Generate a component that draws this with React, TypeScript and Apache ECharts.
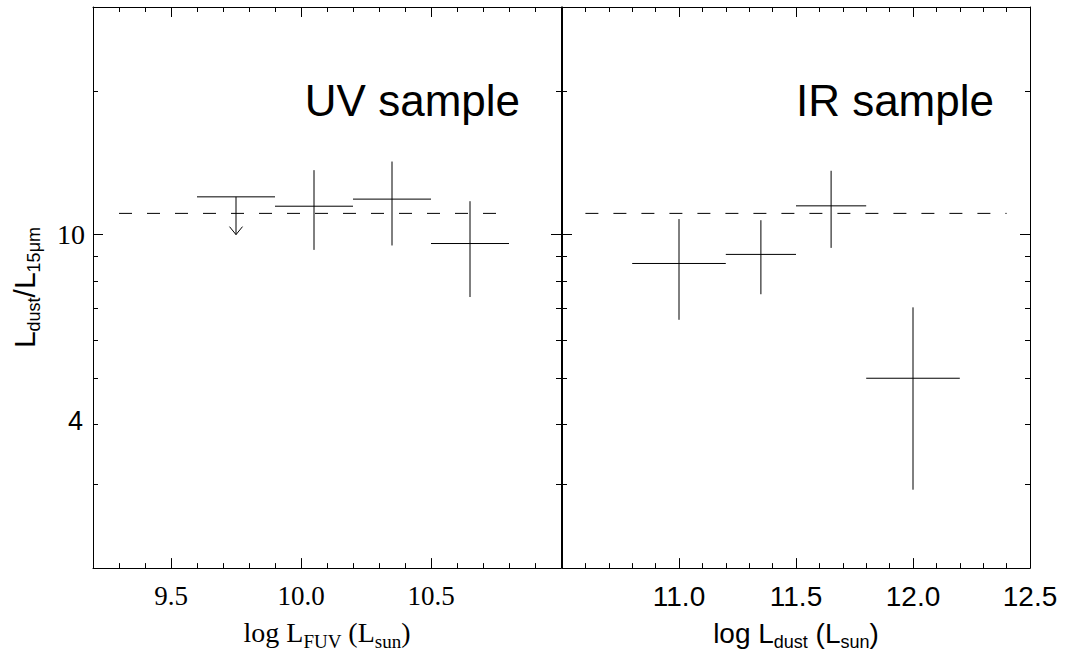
import React, { useEffect, useRef } from "react";
import * as echarts from "echarts";

// ---- data ----
const uvBinLow = [9.6, 9.9, 10.2, 10.5];
const uvBinHigh = [9.9, 10.2, 10.5, 10.8];
const uvBinCenter = [9.75, 10.05, 10.35, 10.65];
const uvRatio = [12.0, 11.47, 11.87, 9.58];
const uvRatioLow = [10.0, 9.29, 9.49, 7.4];
const uvRatioHigh = [12.0, 13.65, 14.23, 11.75];
const uvIsUpperLimit = [true, false, false, false];

const irBinLow = [10.8, 11.2, 11.5, 11.8];
const irBinHigh = [11.2, 11.5, 11.8, 12.2];
const irBinCenter = [11.0, 11.35, 11.65, 12.0];
const irRatio = [8.7, 9.09, 11.49, 5.0];
const irRatioLow = [6.63, 7.5, 9.38, 2.92];
const irRatioHigh = [10.78, 10.72, 13.61, 7.04];

const meanRatio = 11.08;
const uvMeanSpan = [9.3, 10.75];
const irMeanSpan = [10.6, 12.4];

const uvXRange = [9.2, 11.0];
const irXRange = [10.5, 12.5];
const yRange = [2, 30];
const uvXLabels = [9.5, 10.0, 10.5];
const irXLabels = [11.0, 11.5, 12.0, 12.5];
const uvXMajor = [9.5, 10.0, 10.5];
const irXMajor = [11.0, 11.5, 12.0];
const yMinorTicks = [3, 4, 5, 6, 7, 8, 9, 20];
const yMajorTicks = [10];
const yLabels = [4, 10];

const SERIF = "'Liberation Serif', 'Times New Roman', serif";
const SANS = "'Liberation Sans', Arial, Helvetica, sans-serif";
const INK = "#000";
const axisLineStyle = { color: INK, width: 1 };

function makeXAxes(grid: number, range: number[], labels: number[], majors: number[], font: string, fontSize: number, name: string, rich: any) {
  const base: any = {
    type: "value",
    gridIndex: grid,
    min: range[0],
    max: range[1],
    splitLine: { show: false },
    axisLine: { show: true, onZero: false, lineStyle: axisLineStyle },
  };
  return [
    {
      ...base,
      position: "bottom",
      interval: 0.1,
      axisTick: { show: true, inside: true, length: 5, lineStyle: axisLineStyle },
      axisLabel: {
        show: true,
        customValues: labels,
        formatter: (v: number) => v.toFixed(1),
        fontFamily: font,
        fontSize,
        color: INK,
        margin: 14,
      },
      name,
      nameLocation: "middle",
      nameGap: 45,
      nameTextStyle: { color: INK, rich },
    },
    {
      ...base,
      position: "bottom",
      axisLine: { show: false },
      axisTick: { show: true, inside: true, length: 10, customValues: majors, lineStyle: axisLineStyle },
      axisLabel: { show: false },
    },
    {
      ...base,
      position: "top",
      interval: 0.1,
      axisTick: { show: true, inside: true, length: 5, lineStyle: axisLineStyle },
      axisLabel: { show: false },
    },
    {
      ...base,
      position: "top",
      axisLine: { show: false },
      axisTick: { show: true, inside: true, length: 10, customValues: majors, lineStyle: axisLineStyle },
      axisLabel: { show: false },
    },
  ];
}

function makeYAxes(grid: number, withLabels: boolean) {
  const base: any = {
    type: "log",
    logBase: 10,
    gridIndex: grid,
    min: yRange[0],
    max: yRange[1],
    splitLine: { show: false },
    axisLine: { show: true, onZero: false, lineStyle: axisLineStyle },
    axisLabel: { show: false },
  };
  const main: any = {
    ...base,
    position: "left",
    axisTick: { show: true, inside: true, length: 5, customValues: yMinorTicks, lineStyle: axisLineStyle },
  };
  if (withLabels) {
    main.axisLabel = {
      show: true,
      customValues: yLabels,
      margin: 8,
      formatter: (v: number) => (Math.round(v) === 10 ? "{serif|10}" : "{sans|" + Math.round(v) + "}"),
      rich: {
        serif: { fontFamily: SERIF, fontSize: 28, color: INK },
        sans: { fontFamily: SANS, fontSize: 27, color: INK, padding: [0, 2, 6, 0] },
      },
    };
    main.name = "{m|L}{s|dust}{m|/L}{s|15μm}";
    main.nameLocation = "middle";
    main.nameRotate = 90;
    main.nameGap = 54;
    main.nameTextStyle = {
      color: INK,
      rich: {
        m: { fontFamily: SANS, fontSize: 30, lineHeight: 30, color: INK },
        s: { fontFamily: SANS, fontSize: 18, lineHeight: 30, color: INK, padding: [20, 0, 0, 0] },
      },
    };
  }
  return [
    main,
    {
      ...base,
      position: "left",
      axisLine: { show: false },
      axisTick: { show: true, inside: true, length: 10, customValues: yMajorTicks, lineStyle: axisLineStyle },
    },
    {
      ...base,
      position: "right",
      axisTick: { show: true, inside: true, length: 5, customValues: yMinorTicks, lineStyle: axisLineStyle },
    },
    {
      ...base,
      position: "right",
      axisLine: { show: false },
      axisTick: { show: true, inside: true, length: 10, customValues: yMajorTicks, lineStyle: axisLineStyle },
    },
  ];
}

const renderCross = (_params: any, api: any) => {
  const xc = api.value(0);
  const y = api.value(1);
  const x0 = api.value(2);
  const x1 = api.value(3);
  const y0 = api.value(4);
  const y1 = api.value(5);
  const a = api.coord([x0, y]);
  const b = api.coord([x1, y]);
  const c = api.coord([xc, y1]);
  const d = api.coord([xc, y0]);
  const st = { stroke: INK, lineWidth: 1, fill: null };
  return {
    type: "group",
    children: [
      { type: "line", shape: { x1: a[0], y1: a[1], x2: b[0], y2: b[1] }, style: st },
      { type: "line", shape: { x1: c[0], y1: c[1], x2: d[0], y2: d[1] }, style: st },
    ],
  };
};

const renderLimit = (_params: any, api: any) => {
  const xc = api.value(0);
  const y = api.value(1);
  const x0 = api.value(2);
  const x1 = api.value(3);
  const yTip = api.value(4);
  const a = api.coord([x0, y]);
  const b = api.coord([x1, y]);
  const top = api.coord([xc, y]);
  const tip = api.coord([xc, yTip]);
  const st = { stroke: INK, lineWidth: 1, fill: null };
  return {
    type: "group",
    children: [
      { type: "line", shape: { x1: a[0], y1: a[1], x2: b[0], y2: b[1] }, style: st },
      { type: "line", shape: { x1: top[0], y1: top[1], x2: tip[0], y2: tip[1] }, style: st },
      {
        type: "polyline",
        shape: { points: [[tip[0] - 6.5, tip[1] - 8], [tip[0], tip[1]], [tip[0] + 6.5, tip[1] - 8]] },
        style: st,
      },
    ],
  };
};

export default function App() {
  const ref = useRef<HTMLDivElement>(null);

  useEffect(() => {
    document.body.style.margin = "0";
    if (!ref.current) return;
    const chart = echarts.init(ref.current, null, { renderer: "svg" });

    const uvCrossData: any[] = [];
    const uvLimitData: any[] = [];
    uvBinCenter.forEach((c, i) => {
      if (uvIsUpperLimit[i]) {
        uvLimitData.push([c, uvRatio[i], uvBinLow[i], uvBinHigh[i], uvRatioLow[i]]);
      } else {
        uvCrossData.push([c, uvRatio[i], uvBinLow[i], uvBinHigh[i], uvRatioLow[i], uvRatioHigh[i]]);
      }
    });
    const irCrossData = irBinCenter.map((c, i) => [c, irRatio[i], irBinLow[i], irBinHigh[i], irRatioLow[i], irRatioHigh[i]]);

    const serifRich = {
      m: { fontFamily: SERIF, fontSize: 28, lineHeight: 28, color: INK },
      s: { fontFamily: SERIF, fontSize: 19, lineHeight: 28, color: INK, padding: [18, 0, 0, 0] },
    };
    const sansRich = {
      m: { fontFamily: SANS, fontSize: 28, lineHeight: 28, color: INK },
      s: { fontFamily: SANS, fontSize: 18, lineHeight: 28, color: INK, padding: [18, 0, 0, 0] },
    };

    const option: any = {
      animation: false,
      backgroundColor: "#fff",
      grid: [
        { left: 93, top: 7, width: 468, height: 565, containLabel: false },
        { left: 562, top: 7, width: 468, height: 565, containLabel: false },
      ],
      xAxis: [
        ...makeXAxes(0, uvXRange, uvXLabels, uvXMajor, SERIF, 27, "{m|log L}{s|FUV}{m| (L}{s|sun}{m|)}", serifRich),
        ...makeXAxes(1, irXRange, irXLabels, irXMajor, SANS, 28, "{m|log L}{s|dust}{m| (L}{s|sun}{m|)}", sansRich),
      ],
      yAxis: [...makeYAxes(0, true), ...makeYAxes(1, false)],
      graphic: [
        {
          type: "text",
          x: 520,
          y: 100,
          style: {
            text: "UV sample",
            fontSize: 44,
            fontFamily: SANS,
            fill: INK,
            align: "right",
            textAlign: "right",
            verticalAlign: "middle",
            textVerticalAlign: "middle",
          },
        },
        {
          type: "text",
          x: 994,
          y: 100,
          style: {
            text: "IR sample",
            fontSize: 44,
            fontFamily: SANS,
            fill: INK,
            align: "right",
            textAlign: "right",
            verticalAlign: "middle",
            textVerticalAlign: "middle",
          },
        },
      ],
      series: [
        {
          type: "line",
          xAxisIndex: 0,
          yAxisIndex: 0,
          data: [[uvMeanSpan[0], meanRatio], [uvMeanSpan[1], meanRatio]],
          symbol: "none",
          silent: true,
          lineStyle: { color: INK, width: 1, type: [13, 15] },
        },
        {
          type: "line",
          xAxisIndex: 4,
          yAxisIndex: 4,
          data: [[irMeanSpan[0], meanRatio], [irMeanSpan[1], meanRatio]],
          symbol: "none",
          silent: true,
          lineStyle: { color: INK, width: 1, type: [13, 15] },
        },
        {
          type: "custom",
          xAxisIndex: 0,
          yAxisIndex: 0,
          renderItem: renderCross,
          encode: { x: 0, y: 1 },
          data: uvCrossData,
          silent: true,
        },
        {
          type: "custom",
          xAxisIndex: 0,
          yAxisIndex: 0,
          renderItem: renderLimit,
          encode: { x: 0, y: 1 },
          data: uvLimitData,
          silent: true,
        },
        {
          type: "custom",
          xAxisIndex: 4,
          yAxisIndex: 4,
          renderItem: renderCross,
          encode: { x: 0, y: 1 },
          data: irCrossData,
          silent: true,
        },
      ],
    };

    chart.setOption(option);
    return () => {
      chart.dispose();
    };
  }, []);

  return (
    <div
      ref={ref}
      style={{ position: "absolute", left: 0, top: 0, width: 1065, height: 656, background: "#fff" }}
    />
  );
}
